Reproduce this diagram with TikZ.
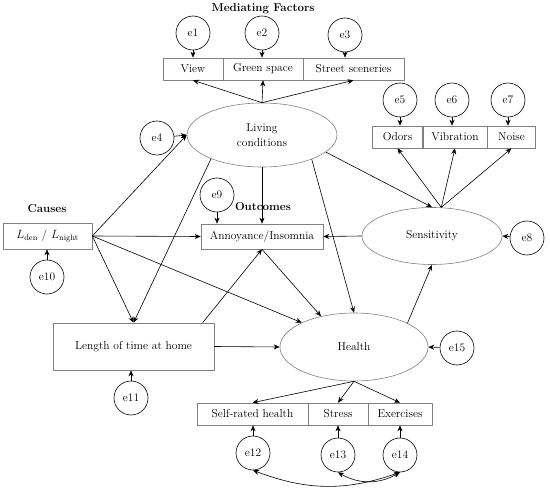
\documentclass[tikz,border=0pt]{standalone}
\usetikzlibrary{shapes.geometric,arrows.meta}
\begin{document}
\begin{tikzpicture}[x=1pt,y=-1pt,line join=round,>={Stealth[length=6pt,width=5pt]},line width=0.6pt,font=\fontsize{11.5}{13}\selectfont]
			\tikzset{obs/.style={draw=gray,rectangle,inner sep=0pt,minimum height=22pt},
				lat/.style={draw=gray,ellipse,inner sep=0pt,align=center},
				err/.style={draw,circle,inner sep=0pt,minimum size=34pt},
				ttl/.style={font=\fontsize{11.5}{13}\selectfont\bfseries}}
			\useasboundingbox (0,0) rectangle (550,492);
			% titles
			\node[ttl] (tmed) at (263,9) {Mediating Factors};
			\node[ttl] (tcau) at (47,209) {Causes};
			\node[ttl] (tout) at (263,207) {Outcomes};
			% latent variables
			\node[lat,minimum width=150pt,minimum height=64pt] (living) at (262,135) {Living\\[2pt]conditions};
			\node[lat,minimum width=140pt,minimum height=57pt] (sens) at (432,236) {Sensitivity};
			\node[lat,minimum width=148pt,minimum height=68pt] (health) at (354,347) {Health};
			% observed boxes
			\node[obs,minimum width=60pt] (view) at (193,69) {View};
			\node[obs,minimum width=80pt] (green) at (263,69) {Green space};
			\node[obs,minimum width=101pt] (street) at (353.5,69) {Street sceneries};
			\node[obs,minimum width=51pt] (odors) at (397.5,137) {Odors};
			\node[obs,minimum width=65pt] (vibr) at (455,137) {Vibration};
			\node[obs,minimum width=48pt] (noise) at (511.5,137) {Noise};
			\node[obs,minimum width=89pt,minimum height=26pt] (ldn) at (47.5,236) {$L_{\mathrm{den}}$ / $L_{\mathrm{night}}$};
			\node[obs,minimum width=122pt,minimum height=25pt] (annoy) at (262,236.5) {Annoyance/Insomnia};
			\node[obs,minimum width=161pt,minimum height=47pt] (length) at (133.5,346.5) {Length of time at home};
			\node[obs,minimum width=111pt] (selfr) at (252.5,414) {Self-rated health};
			\node[obs,minimum width=60pt] (stress) at (338,414) {Stress};
			\node[obs,minimum width=64pt] (exer) at (400,414) {Exercises};
			% error terms
			\foreach \n/\x/\y in {e1/193/33,e2/262/33,e3/345/35,e4/157/138,e5/400/100,e6/452/100,e7/508/100,
				e8/527/238,e9/217/195,e10/47/277,e11/131/398,e12/253/453,e13/338/455,e14/400/455,e15/457/348}
			\node[err] (\n) at (\x,\y) {\n};
			% error arrows
			\foreach \e/\b in {e1/view,e2/green,e3/street,e5/odors,e6/vibr,e7/noise,e9/annoy}
			\draw[->] (\e) -- (\e |- \b.north);
			\foreach \e/\b in {e10/ldn,e11/length,e12/selfr,e13/stress,e14/exer}
			\draw[->] (\e) -- (\e |- \b.south);
			\draw[->] (e4) -- (living.west);
			\draw[->] (e8) -- (sens.east);
			\draw[->] (e15) -- (health.east);
			% measurement paths
			\foreach \b in {view,green,street}
			\draw[->] (living.north) -- (\b.south);
			\foreach \b in {odors,vibr,noise}
			\draw[->] (sens.72) -- (\b.south);
			\foreach \b in {selfr,stress,exer}
			\draw[->] (health.south) -- (\b.north);
			% structural paths
			\draw[->] (ldn.east) -- (living.west);
			\draw[->] (ldn.east) -- (annoy.west);
			\draw[->] (ldn.east) -- (length.north);
			\draw[->] (ldn.east) -- (health.155);
			\draw[->] (living.205) -- (length.north);
			\draw[->] (living.south) -- (annoy.north);
			\draw[->] (living.-26) -- (health.north);
			\draw[->] (living.-15) -- (sens.north);
			\draw[->] (sens.west) -- (annoy.east);
			\draw[->] (length.19) -- (annoy.south);
			\draw[->] (length.east) -- (health.west);
			\draw[->] (annoy.south) -- (health.137);
			\draw[->] (health.24) -- (sens.south);
			% covariances
			\draw[<->] (e12.south) to[bend right=20] (e14.south);
			\draw[<->] (e13.south) to[bend right=30] (e14.south);
		\end{tikzpicture}
\end{document}
